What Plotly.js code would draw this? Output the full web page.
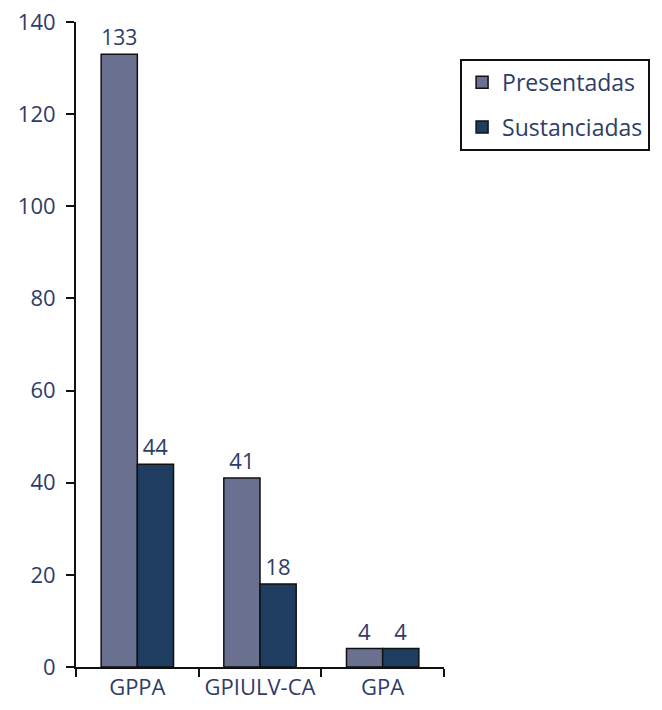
<!DOCTYPE html>
<html>
<head>
<meta charset="utf-8">
<script src="https://cdn.plot.ly/plotly-3.0.1.min.js"></script>
<style>html,body{margin:0;padding:0;background:#fff;}#chart{width:662px;height:710px;}</style>
</head>
<body>
<div id="chart"></div>
<script>
var categories = ["GPPA", "GPIULV-CA", "GPA"];
var presentadas = [133, 41, 4];
var sustanciadas = [44, 18, 4];
var seriesNames = ["Presentadas", "Sustanciadas"];
var yTicks = [0, 20, 40, 60, 80, 100, 120, 140];

var textColor = "#2f3c68";
var fontFam = "Open Sans, Noto Sans, sans-serif";

var traces = [
  {
    type: "bar", name: seriesNames[0], x: categories, y: presentadas,
    text: presentadas.map(String), textposition: "outside", cliponaxis: false,
    textfont: {family: fontFam, size: 22, color: textColor},
    marker: {color: "#6a7190", line: {color: "#111", width: 1.5}},
    legendgroup: "a"
  },
  {
    type: "bar", name: seriesNames[1], x: categories, y: sustanciadas,
    text: sustanciadas.map(String), textposition: "outside", cliponaxis: false,
    textfont: {family: fontFam, size: 22, color: textColor},
    marker: {color: "#1f3d60", line: {color: "#111", width: 1.5}},
    legendgroup: "b"
  }
];

var layout = {
  width: 662, height: 710,
  margin: {l: 76, r: 209, t: 22, b: 43},
  paper_bgcolor: "#fff", plot_bgcolor: "#fff",
  font: {family: fontFam, size: 22, color: textColor},
  barmode: "group", bargap: 0.41, bargroupgap: 0,
  showlegend: true,
  legend: {
    x: 1.56, xanchor: "right", y: 0.943, yanchor: "top",
    bordercolor: "#111", borderwidth: 2, bgcolor: "#fff",
    font: {family: fontFam, size: 23, color: textColor},
    tracegroupgap: 12, traceorder: "grouped"
  },
  xaxis: {
    type: "category", range: [-0.5, 2.5],
    showline: true, linecolor: "#111", linewidth: 2,
    ticks: "outside", tickson: "boundaries", ticklen: 8, tickwidth: 2, tickcolor: "#111",
    tickangle: 0, automargin: false,
    showgrid: false, zeroline: false,
    tickfont: {family: fontFam, size: 22, color: textColor}
  },
  yaxis: {
    range: [0, 140], tickvals: yTicks, ticktext: yTicks.map(String),
    showline: true, linecolor: "#111", linewidth: 2,
    ticks: "outside", ticklen: 8, tickwidth: 2, tickcolor: "#111",
    ticklabelstandoff: 6,
    showgrid: false, zeroline: false,
    tickfont: {family: fontFam, size: 22, color: textColor}
  }
};

Plotly.newPlot("chart", traces, layout, {displayModeBar: false, staticPlot: true});
</script>
</body>
</html>
